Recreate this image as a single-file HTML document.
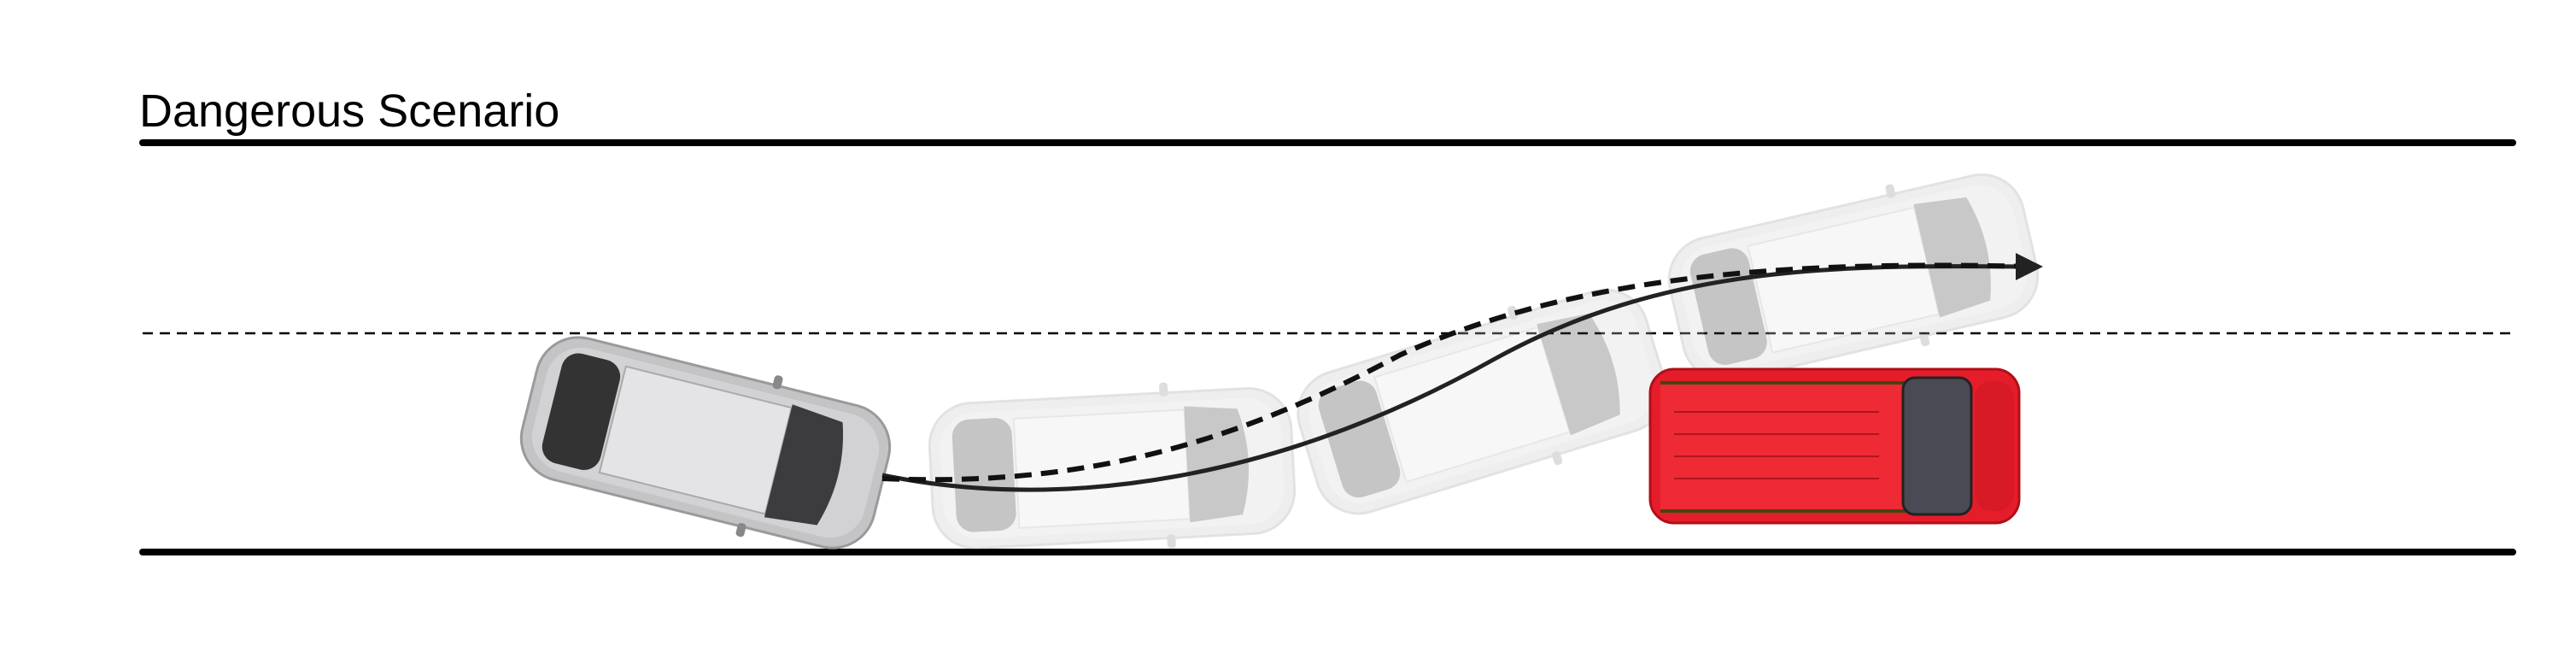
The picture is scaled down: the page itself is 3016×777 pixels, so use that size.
<!DOCTYPE html>
<html>
<head>
<meta charset="utf-8">
<style>
  html,body{margin:0;padding:0;background:#fff;}
  svg{display:block;}
</style>
</head>
<body>
<svg width="3016" height="777" viewBox="0 0 3016 777" xmlns="http://www.w3.org/2000/svg">
  <defs>
    <g id="car">
      <rect x="-212" y="-85" width="424" height="170" rx="50" fill="#c4c4c6" stroke="#9a9a9a" stroke-width="3"/>
      <rect x="-200" y="-74" width="400" height="148" rx="42" fill="#d2d2d4"/>
      <rect x="-185" y="-66" width="70" height="132" rx="20" fill="#333"/>
      <rect x="-112" y="-64" width="200" height="128" fill="#e4e4e6" stroke="#aaa" stroke-width="2"/>
      <path d="M88,-68 L150,-62 Q170,0 150,62 L88,68 Z" fill="#3c3c3e"/>
      <rect x="60" y="-97" width="10" height="16" rx="4" fill="#888"/>
      <rect x="60" y="81" width="10" height="16" rx="4" fill="#888"/>
    </g>
  </defs>

  <text x="163" y="148" font-family="'Liberation Sans', sans-serif" font-size="54" fill="#000">Dangerous Scenario</text>

  <line x1="167" y1="167" x2="2942" y2="167" stroke="#000" stroke-width="8" stroke-linecap="round"/>
  <line x1="167" y1="390" x2="2946" y2="390" stroke="#000" stroke-width="2.5" stroke-dasharray="12 8"/>
  <line x1="167" y1="646" x2="2942" y2="646" stroke="#000" stroke-width="8" stroke-linecap="round"/>

  <g opacity="0.28">
    <use href="#car" transform="translate(1302,548) rotate(-3)"/>
  </g>
  <g opacity="0.28">
    <use href="#car" transform="translate(1735,470) rotate(-17)"/>
  </g>
  <g opacity="0.28">
    <use href="#car" transform="translate(2170,325) rotate(-13)"/>
  </g>

  <g>
    <use href="#car" transform="translate(826,518) rotate(14)"/>
  </g>

  <g>
    <rect x="1932" y="432" width="432" height="180" rx="28" fill="#e51d2a" stroke="#b01018" stroke-width="3"/>
    <rect x="1944" y="448" width="310" height="150" fill="#ee2a34"/>
    <line x1="1944" y1="448" x2="2254" y2="448" stroke="#441" stroke-width="4"/>
    <line x1="1944" y1="598" x2="2254" y2="598" stroke="#441" stroke-width="4"/>
    <line x1="1960" y1="482" x2="2200" y2="482" stroke="#b01520" stroke-width="2"/>
    <line x1="1960" y1="508" x2="2200" y2="508" stroke="#b01520" stroke-width="2"/>
    <line x1="1960" y1="534" x2="2200" y2="534" stroke="#b01520" stroke-width="2"/>
    <line x1="1960" y1="560" x2="2200" y2="560" stroke="#b01520" stroke-width="2"/>
    <rect x="2228" y="442" width="80" height="160" rx="14" fill="#4a4a55" stroke="#222" stroke-width="3"/>
    <rect x="2312" y="446" width="46" height="152" rx="20" fill="#d81a26"/>
  </g>

  <path d="M1033,556 C1250,600 1500,560 1750,420 C1950,310 2150,310 2370,312" fill="none" stroke="#222" stroke-width="5"/>
  <path d="M1033,560 C1300,572 1480,500 1640,415 C1850,320 2100,305 2380,312" fill="none" stroke="#111" stroke-width="6" stroke-dasharray="20 11"/>
  <path d="M2360,296 L2392,312 L2360,328 Z" fill="#222"/>
</svg>
</body>
</html>
